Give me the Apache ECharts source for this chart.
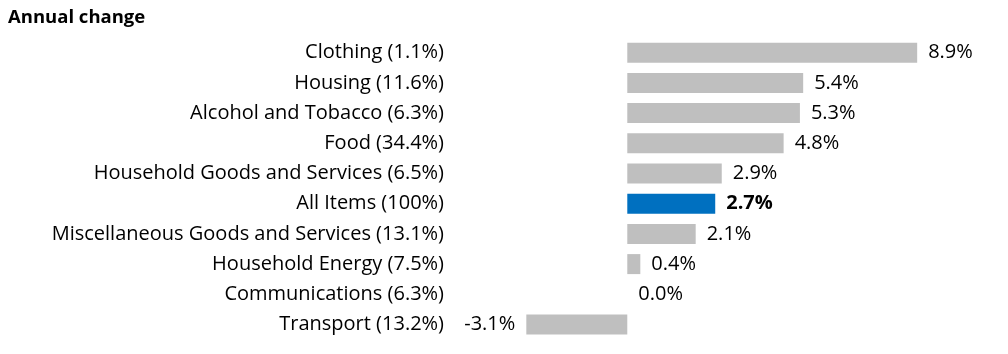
<!DOCTYPE html>
<html>
<head>
<meta charset="utf-8">
<script src="https://cdn.jsdelivr.net/npm/echarts@6/dist/echarts.min.js"></script>
<style>
  html, body { margin: 0; padding: 0; background: #fff; }
  #main { width: 1008px; height: 354px; }
</style>
</head>
<body>
<div id="main"></div>
<script>
// categories top to bottom, with their weights
var categories = [
  'Clothing (1.1%)',
  'Housing (11.6%)',
  'Alcohol and Tobacco (6.3%)',
  'Food (34.4%)',
  'Household Goods and Services (6.5%)',
  'All Items (100%)',
  'Miscellaneous Goods and Services (13.1%)',
  'Household Energy (7.5%)',
  'Communications (6.3%)',
  'Transport (13.2%)'
];
var values = [8.9, 5.4, 5.3, 4.8, 2.9, 2.7, 2.1, 0.4, 0.0, -3.1];
var highlight = 'All Items (100%)';

var FONT = 'Open Sans';

var chart = echarts.init(document.getElementById('main'), null, { renderer: 'canvas' });

var seriesData = values.map(function (v, i) {
  var isAll = categories[i] === highlight;
  return {
    value: v,
    itemStyle: { color: isAll ? '#0070C0' : '#BFBFBF' },
    label: {
      position: v < 0 ? 'left' : 'right',
      fontWeight: isAll ? 'bold' : 'normal'
    }
  };
});

var option = {
  animation: false,
  title: {
    text: 'Annual change',
    left: 3,
    top: 3,
    textStyle: { fontFamily: FONT, fontSize: 18.5, fontWeight: 'bold', color: '#000' }
  },
  grid: { left: 497, width: 456, top: 37.6, bottom: 14.4 },
  xAxis: {
    type: 'value',
    min: -4,
    max: 10,
    show: false
  },
  yAxis: {
    type: 'category',
    data: categories,
    inverse: true,
    axisLine: { show: false },
    axisTick: { show: false },
    axisLabel: {
      margin: 53,
      fontFamily: FONT,
      fontSize: 20,
      color: '#000'
    }
  },
  series: [{
    type: 'bar',
    data: seriesData,
    barWidth: 20,
    label: {
      show: true,
      distance: 11,
      fontFamily: FONT,
      fontSize: 20,
      color: '#000',
      formatter: function (p) { return p.value.toFixed(1) + '%'; }
    }
  }]
};

chart.setOption(option);
</script>
</body>
</html>
